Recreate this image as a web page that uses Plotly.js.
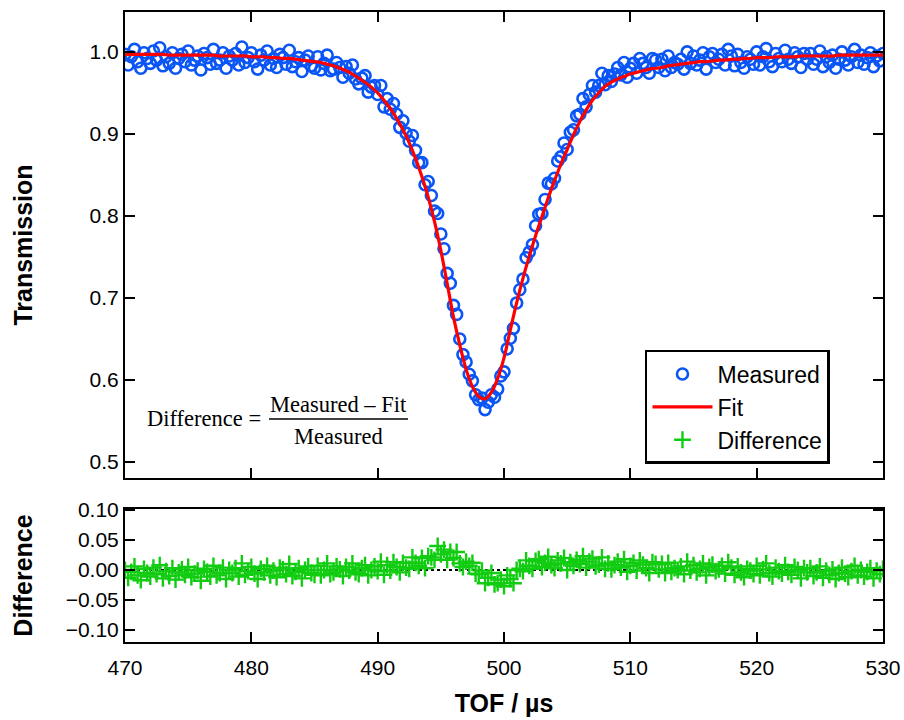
<!DOCTYPE html>
<html>
<head>
<meta charset="utf-8">
<script src="https://cdn.plot.ly/plotly-3.0.1.min.js"></script>
<style>html,body{margin:0;padding:0;background:#fff;}#chart{width:904px;height:720px;}</style>
</head>
<body>
<div id="chart"></div>
<script>
// TOF (µs) of measured points
const tof = [470,470.25,470.5,470.75,471,471.25,471.5,471.75,472,472.25,472.5,472.75,473,473.25,473.5,473.75,474,474.25,474.5,474.75,
475,475.25,475.5,475.75,476,476.25,476.5,476.75,477,477.25,477.5,477.75,478,478.25,478.5,478.75,479,479.25,479.5,479.75,
480,480.25,480.5,480.75,481,481.25,481.5,481.75,482,482.25,482.5,482.75,483,483.25,483.5,483.75,484,484.25,484.5,484.75,
485,485.25,485.5,485.75,486,486.25,486.5,486.75,487,487.25,487.5,487.75,488,488.25,488.5,488.75,489,489.25,489.5,489.75,
490,490.25,490.5,490.75,491,491.25,491.5,491.75,492,492.25,492.5,492.75,493,493.25,493.5,493.75,494,494.25,494.5,494.75,
495,495.25,495.5,495.75,496,496.25,496.5,496.75,497,497.25,497.5,497.75,498,498.25,498.5,498.75,499,499.25,499.5,499.75,
500,500.25,500.5,500.75,501,501.25,501.5,501.75,502,502.25,502.5,502.75,503,503.25,503.5,503.75,504,504.25,504.5,504.75,
505,505.25,505.5,505.75,506,506.25,506.5,506.75,507,507.25,507.5,507.75,508,508.25,508.5,508.75,509,509.25,509.5,509.75,
510,510.25,510.5,510.75,511,511.25,511.5,511.75,512,512.25,512.5,512.75,513,513.25,513.5,513.75,514,514.25,514.5,514.75,
515,515.25,515.5,515.75,516,516.25,516.5,516.75,517,517.25,517.5,517.75,518,518.25,518.5,518.75,519,519.25,519.5,519.75,
520,520.25,520.5,520.75,521,521.25,521.5,521.75,522,522.25,522.5,522.75,523,523.25,523.5,523.75,524,524.25,524.5,524.75,
525,525.25,525.5,525.75,526,526.25,526.5,526.75,527,527.25,527.5,527.75,528,528.25,528.5,528.75,529,529.25,529.5,529.75,530];

// Measured transmission
const measured = [0.997,0.984,0.994,1.003,0.988,0.980,0.999,0.992,0.986,1.001,0.990,1.005,0.983,0.994,0.986,0.999,0.980,0.992,0.997,0.988,
1.001,0.984,0.990,0.995,0.978,0.998,0.993,0.985,1.003,0.986,0.990,0.999,0.980,0.995,0.990,0.998,0.984,1.006,0.987,0.993,
0.999,0.988,0.979,0.996,0.990,1.001,0.984,0.992,0.981,0.997,0.993,0.985,1.002,0.982,0.988,0.993,0.976,0.990,0.995,0.983,
0.980,0.994,0.978,0.986,0.996,0.977,0.979,0.987,0.981,0.969,0.982,0.974,0.984,0.967,0.961,0.968,0.971,0.951,0.957,0.959,
0.948,0.959,0.933,0.943,0.930,0.937,0.924,0.908,0.916,0.901,0.891,0.898,0.880,0.865,0.865,0.838,0.842,0.825,0.806,0.803,
0.778,0.760,0.730,0.718,0.691,0.680,0.650,0.631,0.622,0.607,0.599,0.582,0.576,0.578,0.564,0.573,0.582,0.579,0.589,0.605,
0.610,0.638,0.651,0.663,0.694,0.710,0.723,0.749,0.756,0.765,0.788,0.802,0.803,0.820,0.840,0.839,0.846,0.867,0.872,0.889,
0.881,0.902,0.905,0.922,0.924,0.943,0.933,0.948,0.959,0.951,0.959,0.974,0.960,0.971,0.964,0.973,0.981,0.972,0.987,0.969,
0.980,0.986,0.974,0.992,0.986,0.981,0.974,0.992,0.990,0.981,0.991,0.977,0.995,0.981,0.987,0.985,0.991,0.979,1.000,0.986,
0.995,0.984,0.990,0.999,0.979,0.994,0.998,0.987,0.991,0.997,0.984,1.003,0.995,0.983,0.997,0.987,0.980,0.994,0.991,0.985,
1.000,0.984,0.994,1.004,0.988,0.982,0.998,0.992,0.988,1.002,0.991,0.986,0.999,0.994,0.981,0.998,0.991,0.998,0.985,0.991,
1.001,0.982,0.994,0.987,0.996,0.980,0.991,1.000,0.990,0.984,0.994,1.003,0.987,0.996,0.985,0.993,0.999,0.982,0.995,0.989,0.998];

// Difference = (Measured - Fit) / Measured
const difference = [0.000,-0.013,-0.003,0.006,-0.009,-0.017,0.002,-0.005,-0.011,0.004,-0.007,0.008,-0.014,-0.002,-0.010,0.003,-0.016,-0.004,0.001,-0.008,
0.005,-0.012,-0.006,-0.001,-0.018,0.002,-0.003,-0.011,0.007,-0.009,-0.005,0.004,-0.015,0.000,-0.005,0.003,-0.011,0.011,-0.008,-0.002,
0.005,-0.006,-0.015,0.002,-0.004,0.007,-0.009,-0.001,-0.012,0.004,0.001,-0.007,0.010,-0.010,-0.003,0.003,-0.014,0.000,0.006,-0.005,
-0.008,0.007,-0.009,0.000,0.011,-0.007,-0.004,0.006,0.001,-0.010,0.005,-0.001,0.011,-0.004,-0.007,0.003,0.008,-0.009,0.000,0.006,
-0.002,0.014,-0.008,0.008,-0.001,0.013,0.005,-0.004,0.012,0.004,0.002,0.021,0.012,0.007,0.020,0.003,0.023,0.021,0.017,0.040,
0.026,0.034,0.017,0.030,0.020,0.030,0.011,0.005,0.014,0.007,0.012,-0.006,-0.007,-0.001,-0.022,-0.013,-0.005,-0.024,-0.022,-0.016,
-0.027,-0.009,-0.015,-0.022,0.000,0.002,-0.002,0.016,0.007,0.002,0.015,0.018,0.005,0.012,0.022,0.008,0.003,0.016,0.011,0.020,
0.000,0.013,0.007,0.017,0.010,0.023,0.004,0.014,0.019,0.006,0.009,0.021,0.002,0.011,0.001,0.008,0.014,0.004,0.018,-0.003,
0.007,0.012,-0.001,0.016,0.009,0.003,-0.005,0.013,0.010,0.001,0.010,-0.005,0.012,-0.003,0.003,0.000,0.006,-0.007,0.014,-0.001,
0.008,-0.004,0.002,0.011,-0.009,0.005,0.009,-0.002,0.001,0.007,-0.006,0.013,0.004,-0.008,0.006,-0.004,-0.012,0.002,-0.001,-0.007,
0.007,-0.009,0.001,0.011,-0.005,-0.011,0.004,-0.002,-0.006,0.008,-0.003,-0.008,0.005,0.000,-0.014,0.003,-0.004,0.003,-0.010,-0.004,
0.006,-0.013,-0.001,-0.008,0.001,-0.015,-0.005,0.004,-0.006,-0.012,-0.002,0.007,-0.009,0.000,-0.011,-0.003,0.003,-0.014,-0.001,-0.007,0.002];

// Fit curve
const fitTof = [470,470.5,471,471.5,472,472.5,473,473.5,474,474.5,475,475.5,476,476.5,477,477.5,478,478.5,479,479.5,
480,480.5,481,481.5,482,482.5,483,483.5,484,484.5,485,485.5,486,486.5,487,487.5,488,488.5,489,489.5,
490,490.5,491,491.5,492,492.5,493,493.5,494,494.5,495,495.5,496,496.5,497,497.5,498,498.5,499,499.5,
500,500.5,501,501.5,502,502.5,503,503.5,504,504.5,505,505.5,506,506.5,507,507.5,508,508.5,509,509.5,
510,510.5,511,511.5,512,512.5,513,513.5,514,514.5,515,515.5,516,516.5,517,517.5,518,518.5,519,519.5,
520,520.5,521,521.5,522,522.5,523,523.5,524,524.5,525,525.5,526,526.5,527,527.5,528,528.5,529,529.5,530];
const fitValues = [0.997,0.997,0.997,0.997,0.997,0.997,0.997,0.996,0.996,0.996,0.996,0.996,0.996,0.996,0.996,0.995,0.995,0.995,0.995,0.995,
0.994,0.994,0.994,0.993,0.993,0.992,0.992,0.991,0.990,0.989,0.988,0.987,0.985,0.983,0.980,0.977,0.973,0.968,0.963,0.957,
0.950,0.941,0.931,0.919,0.905,0.889,0.870,0.848,0.823,0.793,0.758,0.718,0.677,0.643,0.613,0.592,0.580,0.577,0.585,0.602,
0.627,0.661,0.694,0.724,0.751,0.776,0.799,0.822,0.843,0.863,0.881,0.899,0.915,0.929,0.941,0.950,0.958,0.963,0.967,0.970,
0.973,0.975,0.977,0.979,0.980,0.981,0.983,0.984,0.985,0.986,0.987,0.988,0.988,0.989,0.990,0.990,0.991,0.991,0.992,0.992,
0.993,0.993,0.993,0.994,0.994,0.994,0.994,0.995,0.995,0.995,0.995,0.995,0.995,0.996,0.996,0.996,0.996,0.996,0.996,0.996,0.996];

// zero reference line of the difference panel
const zeroTof = [470, 530];
const zeroValues = [0, 0];

const blue = '#0a55f5';
const green = '#11cc11';

const traces = [
  {x: tof, y: measured, xaxis: 'x2', yaxis: 'y', type: 'scatter', mode: 'markers', name: 'Measured',
   marker: {symbol: 'circle-open', size: 11, color: blue, line: {width: 2.6, color: blue}}},
  {x: fitTof, y: fitValues, xaxis: 'x2', yaxis: 'y', type: 'scatter', mode: 'lines', name: 'Fit',
   line: {color: '#ff0000', width: 3.2, shape: 'spline'}},
  {x: zeroTof, y: zeroValues, xaxis: 'x', yaxis: 'y2', type: 'scatter', mode: 'lines', showlegend: false,
   line: {color: '#000000', width: 2, dash: 'dot'}, hoverinfo: 'skip'},
  {x: tof, y: difference, xaxis: 'x', yaxis: 'y2', type: 'scatter', mode: 'markers', name: 'Difference',
   marker: {symbol: 'cross-thin-open', size: 12, color: green, line: {width: 2.4, color: green}}}
];

const axisCommon = {
  showline: true, linecolor: '#000', linewidth: 2, ticks: 'inside', ticklen: 10, tickwidth: 2, tickcolor: '#000',
  showgrid: false, zeroline: false, tickfont: {family: 'Liberation Sans, Arial, sans-serif', size: 21, color: '#000'}
};
const titleFont = {size: 25, family: 'Liberation Sans, Arial, sans-serif', color: '#000'};
const serif = {family: 'Liberation Serif, Times New Roman, serif', size: 22.5, color: '#000'};

const layout = {
  width: 904, height: 720,
  margin: {l: 125, r: 21, t: 12, b: 78},
  paper_bgcolor: '#fff', plot_bgcolor: '#fff',
  font: {family: 'Liberation Sans, Arial, sans-serif', color: '#000'},
  showlegend: true,
  xaxis: Object.assign({}, axisCommon, {
    domain: [0, 1], anchor: 'y2', range: [470, 530], tick0: 470, dtick: 10, mirror: true,
    ticklabelstandoff: 6,
    title: {text: '<b>TOF / µs</b>', font: titleFont, standoff: 16}
  }),
  xaxis2: Object.assign({}, axisCommon, {
    domain: [0, 1], anchor: 'y', matches: 'x', range: [470, 530], tick0: 470, dtick: 10, mirror: 'ticks',
    showticklabels: false
  }),
  yaxis: Object.assign({}, axisCommon, {
    domain: [0.2603, 1], anchor: 'x2', range: [0.4806, 1.0486], tick0: 0.5, dtick: 0.1, tickformat: '.1f', mirror: 'ticks',
    title: {text: '<b>Transmission</b>', font: titleFont, standoff: 50}
  }),
  yaxis2: Object.assign({}, axisCommon, {
    domain: [0, 0.2111], anchor: 'x', range: [-0.12, 0.1017], tick0: 0, dtick: 0.05, tickformat: '.2f', mirror: 'ticks',
    title: {text: '<b>Difference</b>', font: titleFont, standoff: 26}
  }),
  legend: {
    x: 0.686, y: 0.4635, xanchor: 'left', yanchor: 'top',
    bgcolor: '#fff', bordercolor: '#000', borderwidth: 2.5,
    font: {family: 'Liberation Sans, Arial, sans-serif', size: 23, color: '#000'},
    itemwidth: 60, tracegroupgap: 0, entrywidth: 200, entrywidthmode: 'pixels'
  },
  annotations: [
    {xref: 'paper', yref: 'paper', x: 0.1821, y: 0.354, xanchor: 'right', yanchor: 'middle', showarrow: false,
     text: 'Difference =', font: serif},
    {xref: 'paper', yref: 'paper', x: 0.2817, y: 0.3762, xanchor: 'center', yanchor: 'middle', showarrow: false,
     text: 'Measured – Fit', font: serif},
    {xref: 'paper', yref: 'paper', x: 0.2817, y: 0.3254, xanchor: 'center', yanchor: 'middle', showarrow: false,
     text: 'Measured', font: serif}
  ],
  shapes: [
    {type: 'line', xref: 'paper', yref: 'paper', x0: 0.19, x1: 0.3734, y0: 0.354, y1: 0.354, line: {color: '#000', width: 1.3}}
  ]
};

Plotly.newPlot('chart', traces, layout, {displayModeBar: false, staticPlot: true});
</script>
</body>
</html>
